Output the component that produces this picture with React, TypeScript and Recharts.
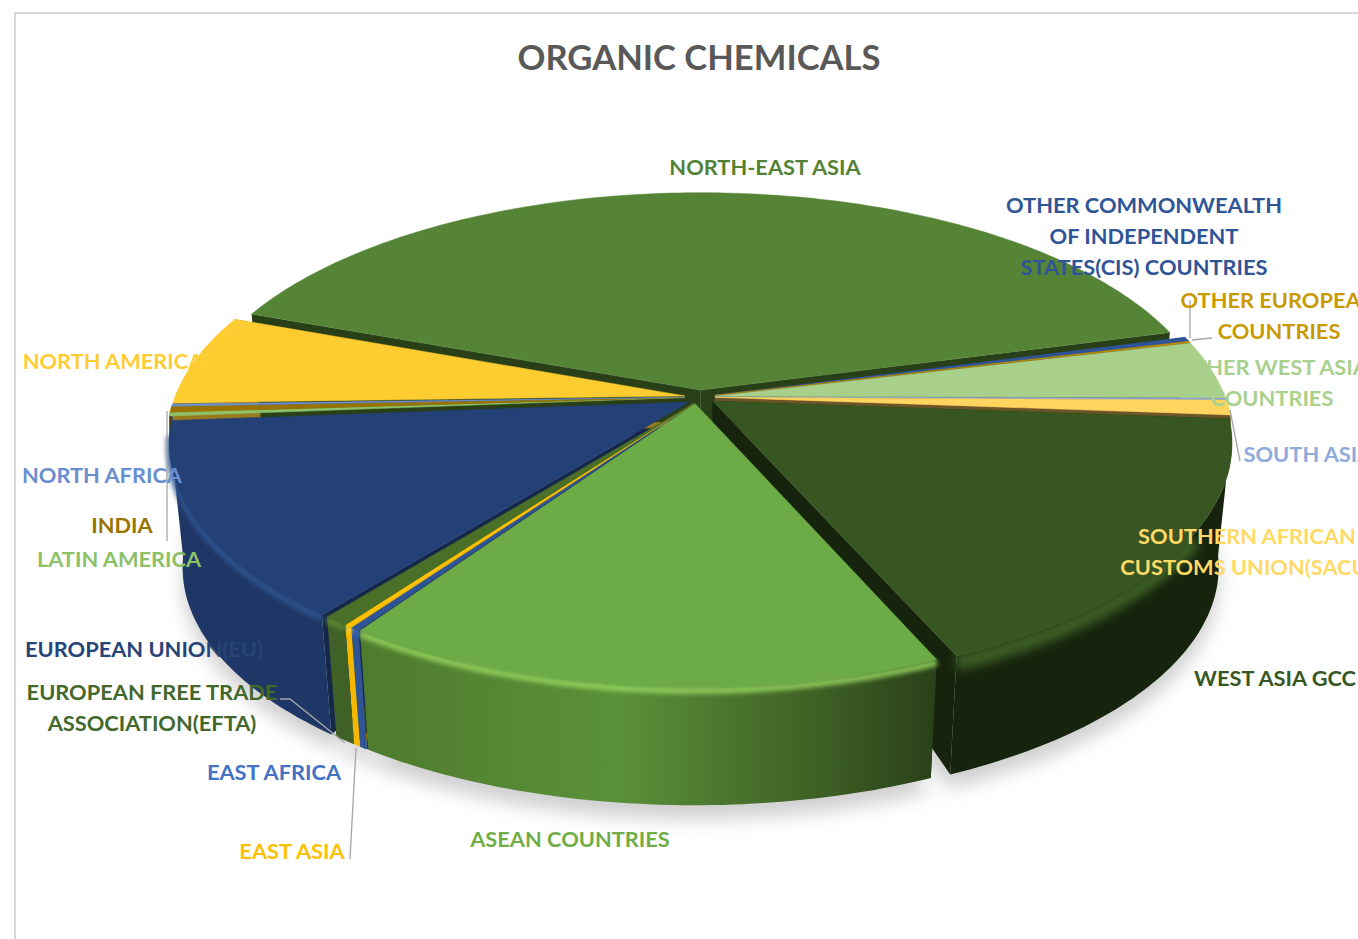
import React from "react";
import { PieChart, Pie } from "recharts";

const CATEGORIES = [
  "ASEAN COUNTRIES",
  "EAST AFRICA",
  "EAST ASIA",
  "EUROPEAN FREE TRADE ASSOCIATION(EFTA)",
  "EUROPEAN UNION(EU)",
  "LATIN AMERICA",
  "INDIA",
  "NORTH AFRICA",
  "NORTH AMERICA",
  "NORTH-EAST ASIA",
  "OTHER COMMONWEALTH OF INDEPENDENT STATES(CIS) COUNTRIES",
  "OTHER EUROPEAN COUNTRIES",
  "OTHER WEST ASIA COUNTRIES",
  "SOUTH ASIA",
  "SOUTHERN AFRICAN CUSTOMS UNION(SACU)",
  "WEST ASIA GCC",
];
const VALUES = [16, 0.25, 0.22, 0.67, 13.14, 0.25, 0.39, 0.14, 6.14, 40.14, 0.31, 0.08, 3.89, 0.1, 1.0, 17.29];

const TOP_COLORS = ["#6cab46", "#2f5597", "#ffc000", "#4a7028", "#234077", "#8cc168", "#997300", "#698ed0", "#fccc30", "#558436", "#2f5597", "#bf9000", "#a8d08b", "#8faadc", "#ffd45f", "#375621"];
const SIDE_COLORS = ["#1b2a10", "#1c3460", "#8a6d00", "#2a4016", "#15274a", "#55753f", "#4a3800", "#3f5680", "#99791d", "#293f18", "#1c3460", "#735700", "#66805a", "#566785", "#6b5428", "#17240d"];
const WALL_COLORS = ["url(#wallAsean)", "#2f5597", "#f5b800", "#3f6026", "#1f3766", "#6c9650", "#7a5c00", "#4f6fa8", "#c9a020", "#3f6026", "#2f5597", "#9a7500", "#85a86c", "#7088b0", "#ccaa4c", "#17240d"];
const BEVEL_COLORS = ["#95d35e", "#3a66b0", "#ffd84a", "#5c8a34", "#2f5590", "", "", "", "", "", "", "", "", "", "", "#3c5e25"];

// one entry per category: centre x, first baseline, text lines, colour
const LABELS = [
  { x: 570, y: 847, lines: ["ASEAN COUNTRIES"], color: "#70ad47" },
  { x: 274, y: 780, lines: ["EAST AFRICA"], color: "#4472c4" },
  { x: 292, y: 859, lines: ["EAST ASIA"], color: "#ffc000" },
  { x: 152, y: 700, lines: ["EUROPEAN FREE TRADE", "ASSOCIATION(EFTA)"], color: "#43682b" },
  { x: 144, y: 657, lines: ["EUROPEAN UNION(EU)"], color: "#264478" },
  { x: 119, y: 567, lines: ["LATIN AMERICA"], color: "#8cc168" },
  { x: 122, y: 533, lines: ["INDIA"], color: "#997300" },
  { x: 102, y: 483, lines: ["NORTH AFRICA"], color: "#698ed0" },
  { x: 113, y: 369, lines: ["NORTH AMERICA"], color: "#ffcd33" },
  { x: 765, y: 175, lines: ["NORTH-EAST ASIA"], color: "#548235" },
  { x: 1144, y: 213, lines: ["OTHER COMMONWEALTH", "OF INDEPENDENT", "STATES(CIS) COUNTRIES"], color: "#2f5597" },
  { x: 1279, y: 308, lines: ["OTHER EUROPEAN", "COUNTRIES"], color: "#c99a00" },
  { x: 1272, y: 375, lines: ["OTHER WEST ASIA", "COUNTRIES"], color: "#a9d18e" },
  { x: 1308, y: 462, lines: ["SOUTH ASIA"], color: "#8faadc" },
  { x: 1247, y: 544, lines: ["SOUTHERN AFRICAN", "CUSTOMS UNION(SACU)"], color: "#ffd966" },
  { x: 1275, y: 686, lines: ["WEST ASIA GCC"], color: "#385723" },
];

const LEADERS: Record<number, string> = {
  2: "M350 859L356 748",
  3: "M280 699H290L345 743",
  7: "M167 411V541",
  11: "M1190 300V338M1192 340L1212 338",
  13: "M1240 461L1230 410",
};

// slices that do not pull straight out along their own middle (library angle)
const PULL_ANGLE: Record<number, number> = { 0: -108, 1: -113, 2: -113, 3: -113, 4: -135 };

const rows = CATEGORIES.map((name, i) => ({ name, value: VALUES[i], i }));

const RATIO = 0.457;
const PERSP = 0.17;
const EXPLODE = 0.03;
const DEPTH = 125;
const LOW_SCALE = 0.975;
const NOTCH = 30;
const WALL_SIN = -0.12;

const rad = (d: number) => (d * Math.PI) / 180;

// unit disc -> screen, s/dy pick the plane (top or underside of the slab)
function project(p: any, u: number, v: number, s: number, dy: number) {
  const w = 1 + PERSP * v;
  const x = p.cx + (p.outerRadius * s * u) / w;
  const y = p.cy - (p.outerRadius * RATIO * s * v) / w + dy;
  return `${x.toFixed(1)} ${y.toFixed(1)}`;
}

function geometry(p: any) {
  const mid = rad(PULL_ANGLE[p.i] ?? (p.startAngle + p.endAngle) / 2);
  const ox = EXPLODE * Math.cos(mid);
  const oy = EXPLODE * Math.sin(mid);
  const n = Math.max(2, Math.ceil(Math.abs(p.startAngle - p.endAngle)));
  // maxSin drops the part of the rim that faces away from the viewer
  const arc = (s: number, dy: number, maxSin = 2) => {
    const pts: string[] = [];
    for (let k = 0; k <= n; k++) {
      const a = rad(p.startAngle + ((p.endAngle - p.startAngle) * k) / n);
      if (Math.sin(a) <= maxSin) pts.push(project(p, ox + Math.cos(a), oy + Math.sin(a), s, dy));
    }
    return pts;
  };
  const apex = (s: number, dy: number) => project(p, ox, oy, s, dy);
  return { arc, apex };
}

const shadowShape = (p: any) => {
  const g = geometry(p);
  return (
    <path
      d={`M${g.apex(LOW_SCALE, DEPTH + 14)}L${g.arc(LOW_SCALE, DEPTH + 14).join("L")}Z`}
      fill="#d0d0d0"
      style={{ filter: "blur(9px)" }}
    />
  );
};

const sideShape = (p: any) => {
  const g = geometry(p);
  const top = g.arc(1, 0);
  const low = g.arc(LOW_SCALE, DEPTH);
  const short = g.arc(1, NOTCH);
  const last = top.length - 1;
  const a0 = g.apex(1, 0);
  // only a short drop at the centre, the neighbours hide the rest
  const a1 = g.apex(1, NOTCH);
  // near the left and right extremes the face would poke out of the slab
  const foot = (angle: number, k: number) => (Math.abs(Math.sin(rad(angle))) < 0.25 ? short[k] : low[k]);
  return (
    <g fill={SIDE_COLORS[p.i]}>
      <path d={`M${a0}L${top[0]}L${foot(p.startAngle, 0)}L${a1}Z`} />
      <path d={`M${a0}L${top[last]}L${foot(p.endAngle, last)}L${a1}Z`} />
    </g>
  );
};

const wallShape = (p: any) => {
  const g = geometry(p);
  const top = g.arc(1, 0, WALL_SIN);
  const low = g.arc(LOW_SCALE, DEPTH, WALL_SIN);
  if (top.length < 2) return <g />;
  const bevel = BEVEL_COLORS[p.i];
  const wide = p.i === 15;
  const rim = g.arc(1, wide ? 7 : 3, wide ? -0.5 : WALL_SIN);
  return (
    <g>
      <path d={`M${top.join("L")}L${low.reverse().join("L")}Z`} fill={WALL_COLORS[p.i]} />
      {bevel && rim.length > 1 && (
        <path
          d={`M${rim.join("L")}`}
          fill="none"
          stroke={bevel}
          strokeWidth={wide ? 16 : 6}
          style={{ filter: wide ? "blur(5px)" : "blur(2.5px)" }}
        />
      )}
    </g>
  );
};

const topShape = (p: any) => {
  const g = geometry(p);
  return (
    <path
      d={`M${g.apex(1, 0)}L${g.arc(1, 0).join("L")}Z`}
      fill={TOP_COLORS[p.i]}
      stroke={TOP_COLORS[p.i]}
      strokeWidth={0.5}
      strokeLinejoin="round"
    />
  );
};

const renderLabel = (props: any) => {
  const i = props.index;
  const item = LABELS[i];
  return (
    <g key={i}>
      {LEADERS[i] && <path d={LEADERS[i]} fill="none" stroke="#a6a6a6" strokeWidth={1.3} />}
      <text
        textAnchor="middle"
        fontFamily="Lato, 'Open Sans', sans-serif"
        fontWeight={700}
        fontSize={21.8}
        fill={item.color}
      >
        {item.lines.map((line, k) => (
          <tspan key={k} x={item.x} y={item.y + k * 31}>
            {line}
          </tspan>
        ))}
      </text>
    </g>
  );
};

const layerProps = {
  data: rows,
  dataKey: "value",
  nameKey: "name",
  cx: 700,
  cy: 397,
  innerRadius: 0,
  outerRadius: 510,
  startAngle: -66.5,
  endAngle: -426.5,
  isAnimationActive: false,
  stroke: "none",
  legendType: "none" as const,
};

export default function App() {
  return (
    <div style={{ position: "absolute", left: 0, top: 0, width: 1358, height: 939, overflow: "hidden", background: "#fff" }}>
      <div
        style={{
          position: "absolute",
          left: 14,
          top: 12,
          right: -4,
          bottom: -4,
          borderLeft: "2px solid #d9d9d9",
          borderTop: "2px solid #d9d9d9",
        }}
      />
      <div style={{ position: "absolute", left: 0, top: 0 }}>
        <PieChart width={1358} height={939} margin={{ top: 0, right: 0, bottom: 0, left: 0 }}>
          <defs>
            <linearGradient id="wallAsean" x1="0" y1="0" x2="1" y2="0">
              <stop offset="0" stopColor="#4e7b2d" />
              <stop offset="0.45" stopColor="#5a9039" />
              <stop offset="0.8" stopColor="#3d5f24" />
              <stop offset="1" stopColor="#2a4119" />
            </linearGradient>
          </defs>
          <text
            x={699}
            y={70}
            textAnchor="middle"
            fontFamily="Lato, 'Open Sans', sans-serif"
            fontWeight={700}
            fontSize={34.6}
            fill="#595959"
          >
            ORGANIC CHEMICALS
          </text>
          <Pie {...layerProps} shape={shadowShape} activeShape={shadowShape} />
          <Pie {...layerProps} shape={sideShape} activeShape={sideShape} />
          <Pie {...layerProps} shape={wallShape} activeShape={wallShape} />
          <Pie {...layerProps} shape={topShape} activeShape={topShape} label={renderLabel} labelLine={false} />
        </PieChart>
      </div>
    </div>
  );
}
